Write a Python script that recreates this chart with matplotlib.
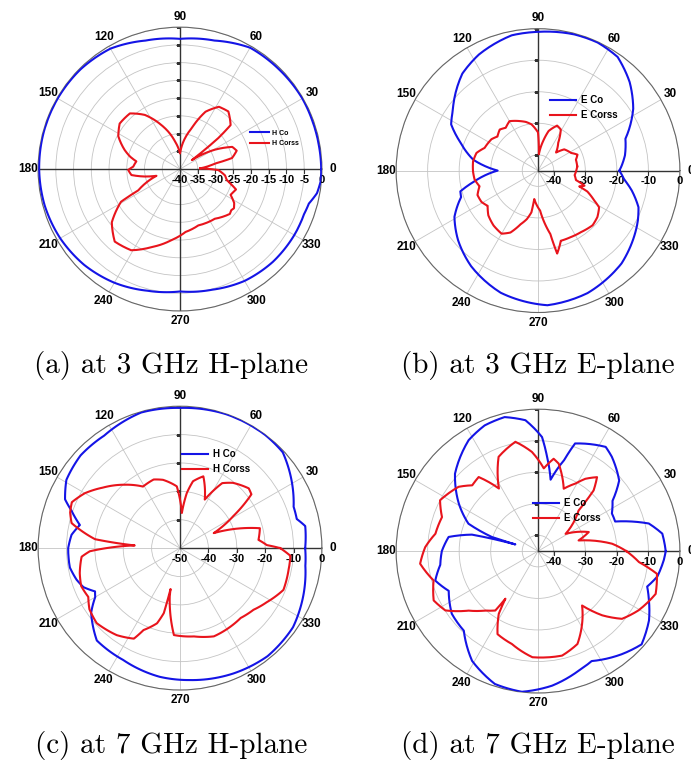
import numpy as np
import matplotlib
matplotlib.use("Agg")
import matplotlib.pyplot as plt
from matplotlib.lines import Line2D

plt.rcParams['font.family'] = ['Liberation Sans', 'DejaVu Sans']

BLUE = '#1414e6'
RED = '#e8141c'

# (a) 3 GHz H-plane
a_co_deg = [0, 10, 20, 30, 45, 60, 75, 90, 105, 120, 135, 150, 165, 180, 195, 210,
            225, 240, 255, 270, 285, 300, 315, 330, 340, 345, 350, 355, 360]
a_co_db = [-0.2, -0.3, -0.3, -0.2, -0.4, -0.5, -2.5, -3.3, -2.5, -0.8, -0.3, -0.2, -0.2, -0.3, -0.5, -1.0,
           -1.8, -3.0, -4.5, -5.5, -4.8, -3.6, -3.0, -2.8, -2.8, -2.4, -0.8, -0.2, -0.2]
a_cx_deg = [2, 9, 12, 18, 23, 29, 37, 39, 41, 50, 58, 66, 74, 83, 90, 100, 113, 123, 132, 143,
            152, 161, 166, 170, 177, 181, 187, 192, 196, 207, 209, 218, 228, 239, 250, 263, 275,
            288, 305, 318, 321, 324, 328, 333, 337, 340, 344, 347, 352, 358.5, 362]
a_cx_db = [-34.3, -30, -25, -23.2, -24, -28.7, -35.8, -26.1, -21.1, -18.8, -19.3, -22.3, -28, -32.2,
           -35.6, -32.2, -26.5, -21.8, -18.9, -18.7, -20.3, -23.5, -25.5, -27.5, -26.8, -25.4, -26.2,
           -29.9, -33.1, -26.8, -21, -15.6, -12.5, -13.3, -16.6, -19.8, -22.2, -23.3, -22.9, -21.1,
           -21.5, -21.2, -22, -24, -23.6, -23.2, -25.3, -26.5, -27.2, -29.2, -34.3]

# (b) 3 GHz E-plane
b_co_deg = [0, 3, 10, 20, 33, 44, 55, 65, 75, 90, 101, 117, 128, 145, 152, 160, 170.5, 180,
            190, 195, 199, 209, 221, 235, 253, 274, 292, 312, 333, 340, 348, 354, 360]
b_co_db = [-19.2, -18.5, -17, -15.5, -9, -4.6, -1, -0.2, -0.3, -1.0, -1.3, -3.7, -6, -12, -13.8,
           -18.8, -24.2, -32.2, -24.2, -19.5, -19.2, -14.7, -11.4, -8, -4.5, -2.2, -3.1, -5.4,
           -9.5, -11.1, -14.6, -17.5, -19.2]
b_cx_deg = [6, 16, 22, 28, 39, 45, 54, 61, 67, 75, 80, 87, 90, 98, 104, 110, 120, 127, 133, 140,
            146, 157, 164, 172, 181, 188, 195, 202, 209, 215, 222, 231, 240, 246, 252, 257, 261,
            262.5, 273, 281, 283, 288, 296, 305, 315, 322, 329, 332, 337, 339, 342, 346, 353, 366]
b_cx_db = [-32.5, -32.5, -31.5, -33.1, -34.3, -36.9, -34.1, -30.1, -29.5, -32, -35.4, -39.8, -32.9,
           -30.2, -29.1, -28.3, -26.9, -28.0, -27.2, -28.2, -27.2, -26.6, -24.7, -24.2, -24.4, -24.7,
           -25.8, -24.3, -24.5, -25.5, -23.8, -22.6, -21.9, -23.5, -27.1, -29.2, -31.6, -35.9,
           -32.3, -24.5, -18, -21.6, -21.5, -21.2, -20.5, -21.1, -22.4, -24.8, -28, -31, -29.5,
           -32.6, -33.3, -32.5]

# (c) 7 GHz H-plane
c_co_deg = [0, 10, 14, 20, 32, 43, 53, 71, 90, 106, 124, 137, 149, 157, 161, 167, 173, 180,
            190, 197, 202, 207, 210, 216, 228, 243, 261, 274, 293, 309, 325, 340, 352, 360]
c_co_db = [-5.9, -5.2, -7.6, -7.4, -3.8, -0.5, -0.1, -0.1, -0.6, -0.3, -2.2, -2.1, -3.3, -6,
           -9.6, -13.8, -11.5, -10.6, -10.6, -11.9, -13.3, -16.4, -15.5, -11.3, -6.2, -5.8, -4.1,
           -3.4, -2, -1, -1.4, -3.6, -5.4, -5.9]
c_cx_deg = [0, 2, 6, 14, 24, 31, 37, 41, 51, 57, 63, 72, 79, 83, 87, 93, 104, 111, 121, 131,
            142, 150, 157, 162, 167, 174, 176.6, 182, 185, 194, 201, 208, 214, 222, 234, 243,
            246, 253, 256, 257, 258, 266, 279, 291, 311, 320, 328, 338, 349, 356, 360]
c_cx_db = [-14.7, -19.4, -22.2, -21, -37, -28.1, -18.5, -17.9, -20.4, -22.7, -30.8, -23.4, -26,
           -30.5, -37.6, -28.2, -25.2, -24.1, -24.7, -20.4, -15.4, -11.3, -8.6, -9.3, -10.8,
           -19.9, -34, -18.2, -15.2, -13.6, -12.7, -13.4, -11.5, -10.5, -12.1, -14.2, -18.4,
           -22.3, -26.4, -35.2, -32.6, -19.3, -18.5, -16.7, -17.4, -16.2, -14, -10.7, -11, -11,
           -14.7]

# (d) 7 GHz E-plane
d_co_deg = [0, 8, 14, 21, 27, 34, 41, 52, 57, 71, 74, 80, 84.5, 88, 95.5, 104, 113, 122, 137,
            149, 158.5, 163, 163.6, 166, 171, 180, 188, 196, 204, 216, 227, 239, 252, 263.5,
            276, 289, 296, 309, 318, 328, 336, 342, 348, 356, 360]
d_co_db = [-4.5, -5.2, -8.8, -18.8, -18.7, -16.5, -10.9, -7, -5.6, -8.9, -15, -22, -15, -8.8,
           -3.3, -1.2, -1.7, -3.5, -9, -15.7, -21.3, -29.7, -37.5, -23.4, -16.3, -14.5, -13.7,
           -11.1, -14, -11.2, -10.5, -4.4, -0.7, -0.1, -2.1, -5, -6.2, -2.9, -0.8, -3.5, -6.5,
           -8.6, -6.3, -5, -4.5]
d_cx_deg = [0, 5.7, 14.7, 20.6, 32, 45, 47.5, 51.4, 56.8, 61, 67.6, 76.7, 80.4, 86, 93.5, 101.7,
            112.7, 122, 128.7, 135, 141, 152.6, 160.5, 170.4, 178, 186.1, 195.7, 205.3, 212.6,
            220.6, 228.4, 234.3, 235.6, 238, 244, 254.3, 267, 274, 283, 293, 309, 315, 321.1,
            329.5, 340, 349.2, 353.8, 360]
d_cx_db = [-17, -21.4, -31.7, -27.8, -34.7, -26.8, -18.9, -15, -17.6, -20.5, -23.6, -16.5, -15.3,
           -18.7, -13.5, -9.6, -12.6, -21.6, -14.9, -15.5, -12.6, -10, -12.7, -12, -9.2, -7.4,
           -10.6, -8.4, -10.1, -16, -19.8, -21.8, -26.7, -21.5, -15.7, -14.4, -11.3, -11.2, -11,
           -13, -22.8, -16.2, -10.8, -8, -5.3, -6.6, -12.8, -17]

panels = [
    dict(rect=[0.0550, 0.5935, 0.411, 0.371], rmin=-40, rings=list(range(-40, 1, 5)),
         co=(a_co_deg, a_co_db), cx=(a_cx_deg, a_cx_db), names=['H Co', 'H Corss'],
         leg=(0.357, 0.835), legsize=5, full=True, cap='(a) at 3 GHz H-plane', capxy=(0.2475, 0.5216)),
    dict(rect=[0.5731, 0.5915, 0.411, 0.371], rmin=-45, rings=[-40, -30, -20, -10, 0],
         co=(b_co_deg, b_co_db), cx=(b_cx_deg, b_cx_db), names=['E Co', 'E Corss'],
         leg=(0.789, 0.882), legsize=7, full=False, cap='(b) at 3 GHz E-plane', capxy=(0.7786, 0.5216)),
    dict(rect=[0.0550, 0.0980, 0.411, 0.371], rmin=-50, rings=[-50, -40, -30, -20, -10, 0],
         co=(c_co_deg, c_co_db), cx=(c_cx_deg, c_cx_db), names=['H Co', 'H Corss'],
         leg=(0.256, 0.419), legsize=7, full=False, cap='(c) at 7 GHz H-plane', capxy=(0.2475, 0.0261)),
    dict(rect=[0.5731, 0.0941, 0.411, 0.371], rmin=-45, rings=[-40, -30, -20, -10, 0],
         co=(d_co_deg, d_co_db), cx=(d_cx_deg, d_cx_db), names=['E Co', 'E Corss'],
         leg=(0.764, 0.355), legsize=7, full=False, cap='(d) at 7 GHz E-plane', capxy=(0.7786, 0.0261)),
]

fig = plt.figure(figsize=(6.91, 7.65), dpi=100)

for p in panels:
    ax = fig.add_axes(p['rect'], projection='polar')
    rmin = p['rmin']
    ax.set_ylim(rmin, 0)
    ax.set_rgrids([r for r in p['rings'] if r > rmin], labels=[])
    ax.set_thetagrids(np.arange(0, 360, 30), labels=[str(a) for a in range(0, 360, 30)],
                      fontsize=8.5, fontweight='bold')
    ax.tick_params(axis='x', pad=-3)
    ax.grid(True, color='#c4c4c4', lw=0.6)
    ax.spines['polar'].set_linestyle((0, (1, 1)))
    ax.spines['polar'].set_color('#666666')
    ax.spines['polar'].set_linewidth(0.8)

    # dark axes with small ticks
    ax.plot([0, 0], [rmin, 0], color='#333333', lw=1.0, zorder=2)
    ax.plot([np.pi / 2, np.pi / 2], [rmin, 0], color='#333333', lw=1.0, zorder=2)
    if p['full']:
        ax.plot([np.pi, np.pi], [rmin, 0], color='#333333', lw=1.0, zorder=2)
        ax.plot([1.5 * np.pi, 1.5 * np.pi], [rmin, 0], color='#333333', lw=1.0, zorder=2)
    tk = [r for r in p['rings'] if r > rmin]
    ax.plot(np.zeros(len(tk)), tk, ls='none', marker=3, ms=3, mew=0.8, color='#333333')
    ax.plot(np.full(len(tk), np.pi / 2), tk, ls='none', marker=0, ms=3, mew=0.8, color='#333333')

    for r in p['rings']:
        ax.annotate(str(r), xy=(0, r), xytext=(0, -4), textcoords='offset points',
                    ha='center', va='top', fontsize=8, fontweight='bold')

    co_deg, co_db = p['co']
    cx_deg, cx_db = p['cx']
    l1, = ax.plot(np.radians(co_deg), co_db, color=BLUE, lw=1.5, zorder=3)
    l2, = ax.plot(np.radians(cx_deg), cx_db, color=RED, lw=1.5, zorder=3)
    # draw segments along polar arcs (same as the gridlines do)
    for ln in (l1, l2):
        ln.get_path()._interpolation_steps = 12

    handles = [Line2D([], [], color=BLUE, lw=1.5), Line2D([], [], color=RED, lw=1.5)]
    ax.legend(handles, p['names'], loc='upper left', bbox_to_anchor=p['leg'],
              bbox_transform=fig.transFigure, frameon=False, borderpad=0,
              handlelength=2.7, handletextpad=0.5, labelspacing=0.5,
              prop=dict(size=p['legsize'], weight='bold'))

    fig.text(p['capxy'][0], p['capxy'][1], p['cap'], family=['cmr10', 'DejaVu Serif'],
             fontsize=21, ha='center', va='center')

fig.savefig('out.png', dpi=100)
